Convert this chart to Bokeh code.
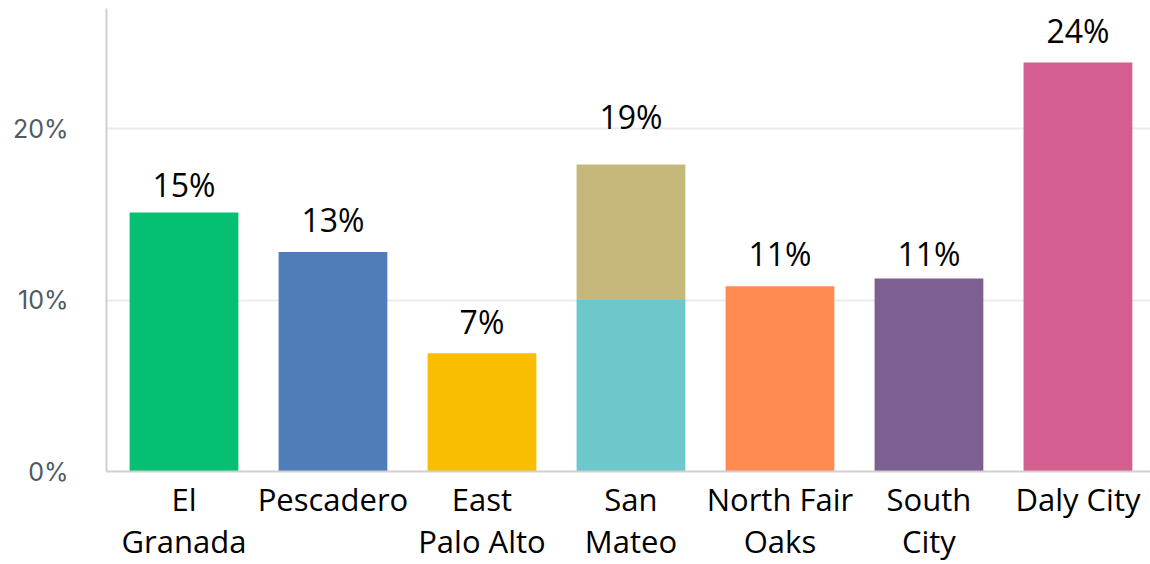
from bokeh.plotting import figure
from bokeh.models import ColumnDataSource, FixedTicker, Range1d, LabelSet
from bokeh.core.properties import value
from bokeh.embed import file_html
from bokeh.resources import INLINE

categories = ["El\nGranada", "Pescadero", "East\nPalo Alto", "San\nMateo", "North Fair\nOaks", "South\nCity", "Daly City"]
base_values = [15.1, 12.8, 6.9, 10.0, 10.8, 11.25, 23.85]
extra_values = [0, 0, 0, 7.9, 0, 0, 0]
label_values = [15, 13, 7, 19, 11, 11, 24]
base_colors = ["#05C072", "#4F7DB8", "#F9BE00", "#6DC8CC", "#FF8B52", "#7D5F91", "#D45F8E"]
extra_color = "#C6B87A"
y_ticks = [0, 10, 20]

xs = list(range(len(categories)))
tops = [b + e for b, e in zip(base_values, extra_values)]

p = figure(width=1150, height=564, output_backend="svg", toolbar_location=None,
           x_range=Range1d(-0.52, 6.487), y_range=Range1d(0, 27))
p.min_border_left = 106
p.min_border_right = 0
p.min_border_top = 8
p.min_border_bottom = 93
p.outline_line_color = None
p.background_fill_color = "white"
p.border_fill_color = "white"

src = ColumnDataSource(dict(x=xs, base=base_values, top=tops, color=base_colors,
                            lab=[f"{v}%" for v in label_values], ly=label_values))
p.vbar(x="x", width=0.73, bottom=0, top="base", fill_color="color", line_color=None, source=src)
ex = [(x, b, t) for x, b, t in zip(xs, base_values, tops) if t > b]
p.vbar(x=[e[0] for e in ex], width=0.73, bottom=[e[1] for e in ex], top=[e[2] for e in ex],
       fill_color=extra_color, line_color=None)

labels = LabelSet(x="x", y="ly", text="lab", source=src, text_align="center",
                  text_baseline="alphabetic", y_offset=17, text_font=value("Open Sans"),
                  text_font_size=value("32px"), text_color=value("#000000"))
p.add_layout(labels)

# x axis
p.xaxis.ticker = FixedTicker(ticks=xs)
p.xaxis.major_label_overrides = {i: c for i, c in enumerate(categories)}
p.xaxis.major_label_text_font = "Open Sans"
p.xaxis.major_label_text_font_size = "31px"
p.xaxis.major_label_text_color = "#000000"
p.xaxis.major_label_text_line_height = 1.0
p.xaxis.major_label_standoff = 0
p.xaxis.major_tick_line_color = None
p.xaxis.minor_tick_line_color = None
p.xaxis.axis_line_color = "#d0d0d0"
p.xaxis.axis_line_width = 2

# y axis
p.yaxis.ticker = FixedTicker(ticks=y_ticks)
p.yaxis.major_label_overrides = {t: f"{t}%" for t in y_ticks}
p.yaxis.major_label_text_font = "Inter"
p.yaxis.major_label_text_font_size = "25px"
p.yaxis.major_label_text_color = "#505a63"
p.yaxis.major_label_standoff = 32
p.yaxis.major_tick_line_color = None
p.yaxis.minor_tick_line_color = None
p.yaxis.axis_line_color = "#d0d0d0"
p.yaxis.axis_line_width = 2

p.xgrid.grid_line_color = None
p.ygrid.grid_line_color = "#ebebeb"
p.ygrid.grid_line_width = 2

open("out.html", "w").write(file_html(p, INLINE))
